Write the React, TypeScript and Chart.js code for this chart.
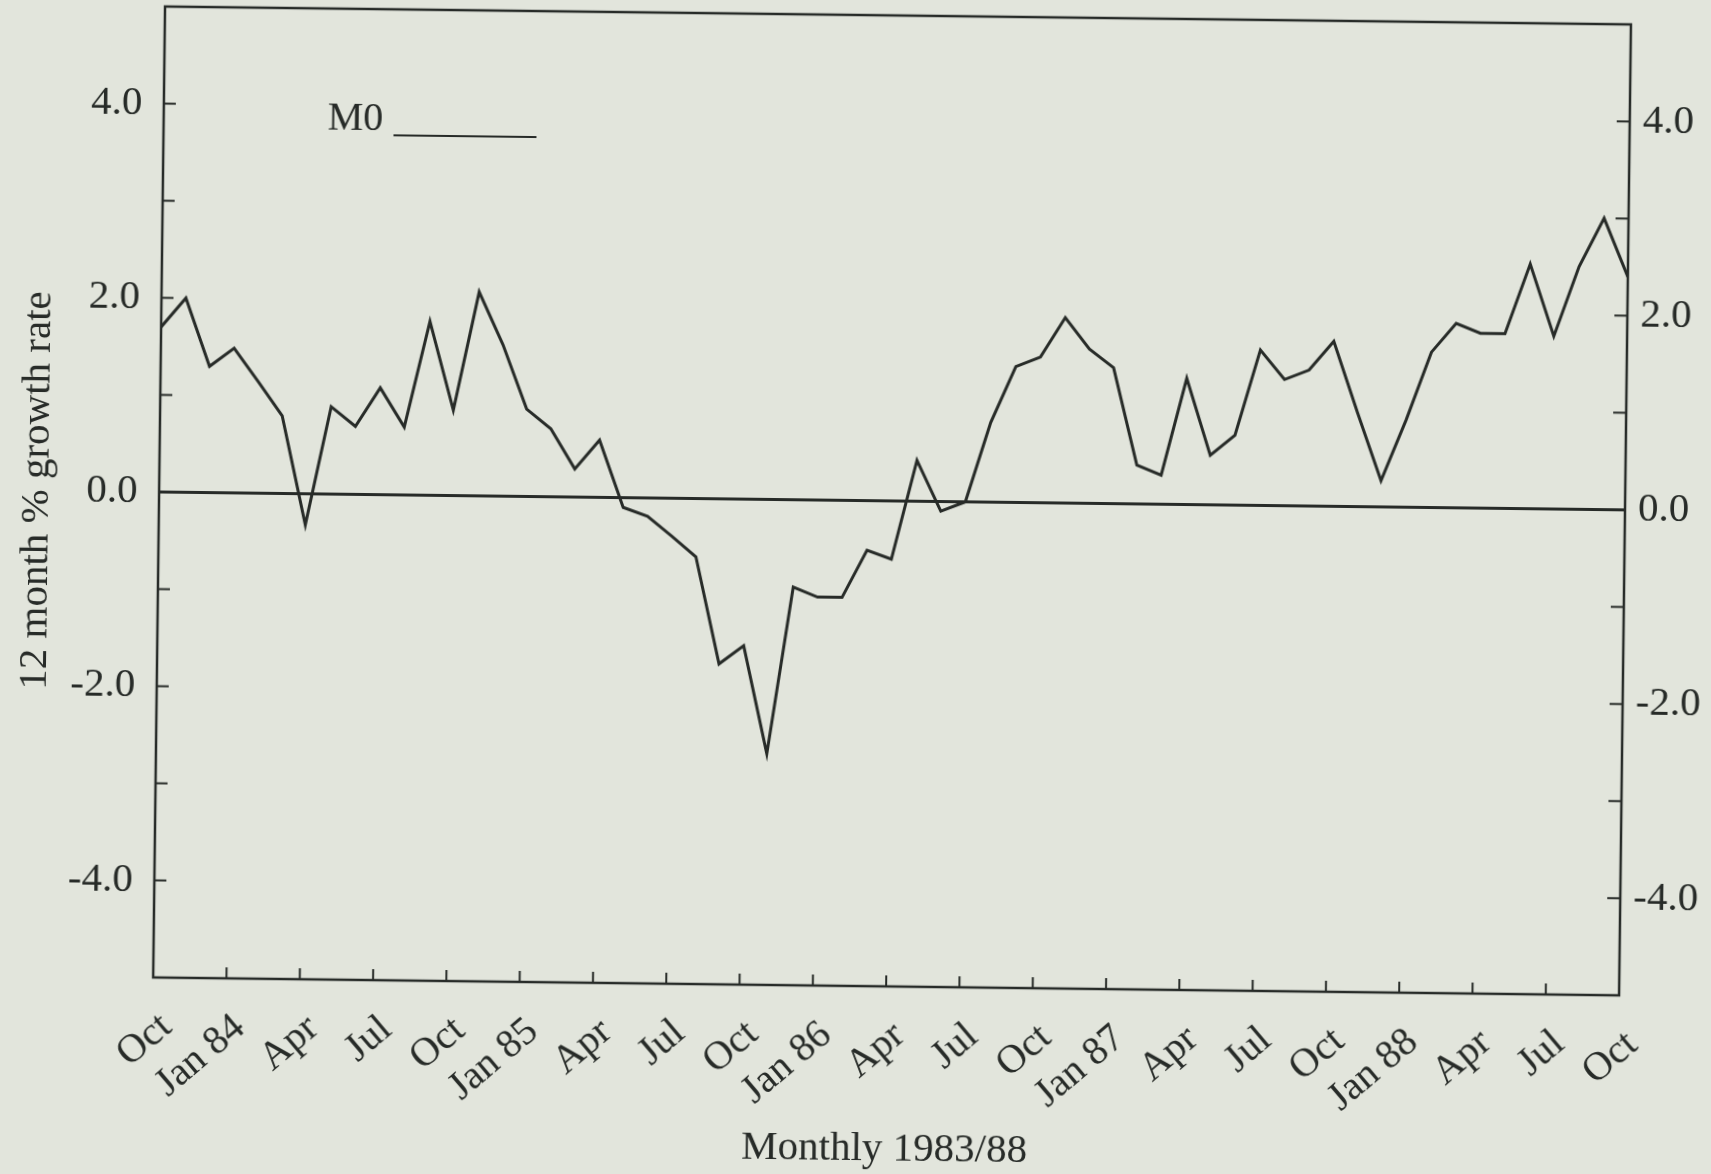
import { useEffect, useRef } from 'react';
import { Chart, registerables } from 'chart.js';

Chart.register(...registerables);

// Quarter labels along the time axis, Oct 1983 to Oct 1988 (one every 3 months)
const quarterLabels = [
  'Oct', 'Jan 84', 'Apr', 'Jul',
  'Oct', 'Jan 85', 'Apr', 'Jul',
  'Oct', 'Jan 86', 'Apr', 'Jul',
  'Oct', 'Jan 87', 'Apr', 'Jul',
  'Oct', 'Jan 88', 'Apr', 'Jul',
  'Oct',
];

// M0: 12 month % growth rate, monthly from Oct 1983 to Oct 1988
const m0Growth = [
  1.7, 2.0, 1.3, 1.49, 1.15, 0.8, -0.32, 0.9, 0.7, 1.1, 0.7, 1.79, 0.88,
  2.1, 1.56, 0.9, 0.7, 0.29, 0.59, -0.1, -0.19, -0.39, -0.6, -1.7, -1.51,
  -2.62, -0.9, -1.0, -1.0, -0.51, -0.6, 0.42, -0.1, 0.0, 0.82, 1.4, 1.5,
  1.91, 1.59, 1.4, 0.4, 0.3, 1.3, 0.51, 0.72, 1.6, 1.3, 1.4, 1.7, 0.97,
  0.27, 0.9, 1.6, 1.9, 1.8, 1.8, 2.52, 1.78, 2.5, 3.0, 2.4,
];

const seriesName = 'M0';
const yLabelledTicks = [-4, -2, 0, 2, 4];
const yMin = -5;
const yMax = 5;

const INK = '#272b28';
const PAPER = '#e2e5dc';
const FONT = "'Liberation Serif', 'Times New Roman', Times, serif";

const yTickLabel = (v: number | string) => {
  const n = Number(v);
  return yLabelledTicks.includes(n) ? n.toFixed(1) : '';
};

// Frame, inward tick marks and the "M0 ____" key
const framePlugin = {
  id: 'frameAndKey',
  afterDraw(chart: any) {
    const { ctx, chartArea: a, scales } = chart;
    ctx.save();
    ctx.strokeStyle = INK;
    ctx.lineCap = 'butt';

    ctx.lineWidth = 2.5;
    ctx.strokeRect(a.left, a.top, a.right - a.left, a.bottom - a.top);

    const seg = (x1: number, y1: number, x2: number, y2: number) => {
      ctx.beginPath();
      ctx.moveTo(x1, y1);
      ctx.lineTo(x2, y2);
      ctx.stroke();
    };

    ctx.lineWidth = 2;
    for (const t of scales.y.ticks) {
      if (t.value <= yMin || t.value >= yMax) continue;
      const py = scales.y.getPixelForValue(t.value);
      seg(a.left, py, a.left + 12, py);
      seg(a.right, py, a.right - 13, py);
    }
    for (const t of scales.x.ticks) {
      const px = scales.x.getPixelForValue(t.value);
      if (px <= a.left + 1 || px >= a.right - 1) continue;
      seg(px, a.bottom, px, a.bottom - 11);
    }

    // key
    const label = chart.data.datasets[0].label;
    ctx.fillStyle = INK;
    ctx.font = `40px ${FONT}`;
    ctx.textBaseline = 'alphabetic';
    ctx.textAlign = 'left';
    ctx.fillText(label, a.left + 164, a.top + 121);
    ctx.lineWidth = 2;
    seg(a.left + 230, a.top + 126, a.left + 373, a.top + 126);
    ctx.restore();
  },
};

export default function App() {
  const canvasRef = useRef<HTMLCanvasElement | null>(null);

  useEffect(() => {
    const canvas = canvasRef.current;
    if (!canvas) return;

    const yTickFont = { family: FONT, size: 41 };
    const xTickFont = { family: FONT, size: 40 };
    const titleFont = { family: FONT, size: 41 };

    const chart = new Chart(canvas, {
      type: 'line',
      data: {
        datasets: [
          {
            label: seriesName,
            data: m0Growth.map((v, i) => ({ x: i, y: v })),
            borderColor: INK,
            borderWidth: 3,
            pointRadius: 0,
            tension: 0,
            fill: false,
            borderJoinStyle: 'miter',
          },
        ],
      },
      options: {
        responsive: false,
        animation: false,
        devicePixelRatio: 1,
        layout: { padding: { top: 15, left: 0, right: 0, bottom: 0 } },
        plugins: {
          legend: { display: false },
          tooltip: { enabled: false },
        },
        scales: {
          x: {
            type: 'linear',
            min: 0,
            max: (quarterLabels.length - 1) * 3,
            afterBuildTicks: (s: any) => {
              s.ticks = quarterLabels.map((_, i) => ({ value: i * 3 }));
            },
            ticks: {
              autoSkip: false,
              minRotation: 41,
              maxRotation: 41,
              padding: 26,
              labelOffset: 14,
              color: INK,
              font: xTickFont,
              callback: (v: any) => quarterLabels[Math.round(Number(v) / 3)],
            },
            grid: { display: false, drawTicks: false },
            border: { display: false },
            title: {
              display: true,
              text: 'Monthly 1983/88',
              color: INK,
              font: titleFont,
              padding: { top: 0, bottom: 0 },
            },
            afterFit: (s: any) => {
              s.height = 188;
              s.paddingLeft = 0;
              s.paddingRight = 0;
            },
          },
          y: {
            type: 'linear',
            position: 'left',
            min: yMin,
            max: yMax,
            ticks: {
              stepSize: 1,
              padding: 21.5,
              color: INK,
              font: yTickFont,
              callback: yTickLabel,
            },
            grid: {
              drawTicks: false,
              color: (c: any) => (c.tick && c.tick.value === 0 ? INK : 'rgba(0,0,0,0)'),
              lineWidth: 3,
            },
            border: { display: false },
            title: {
              display: true,
              text: '12 month % growth rate',
              color: INK,
              font: titleFont,
              padding: { top: 12, bottom: 0 },
            },
            afterFit: (s: any) => {
              s.width = 158;
              s.paddingTop = 0;
              s.paddingBottom = 0;
            },
          },
          y2: {
            type: 'linear',
            position: 'right',
            min: yMin,
            max: yMax,
            ticks: {
              stepSize: 1,
              padding: 13,
              color: INK,
              font: yTickFont,
              callback: yTickLabel,
            },
            grid: { display: false, drawTicks: false },
            border: { display: false },
            afterFit: (s: any) => {
              s.width = 87;
              s.paddingTop = 0;
              s.paddingBottom = 0;
            },
          },
        },
      },
      plugins: [framePlugin],
    } as any);

    return () => chart.destroy();
  }, []);

  return (
    <div style={{ position: 'fixed', inset: 0, background: PAPER, overflow: 'hidden' }}>
      <canvas
        ref={canvasRef}
        width={1711}
        height={1174}
        style={{
          position: 'absolute',
          left: 0,
          top: 0,
          width: 1711,
          height: 1174,
          transform: 'rotate(0.7deg)',
          transformOrigin: '50% 50%',
        }}
      />
    </div>
  );
}
